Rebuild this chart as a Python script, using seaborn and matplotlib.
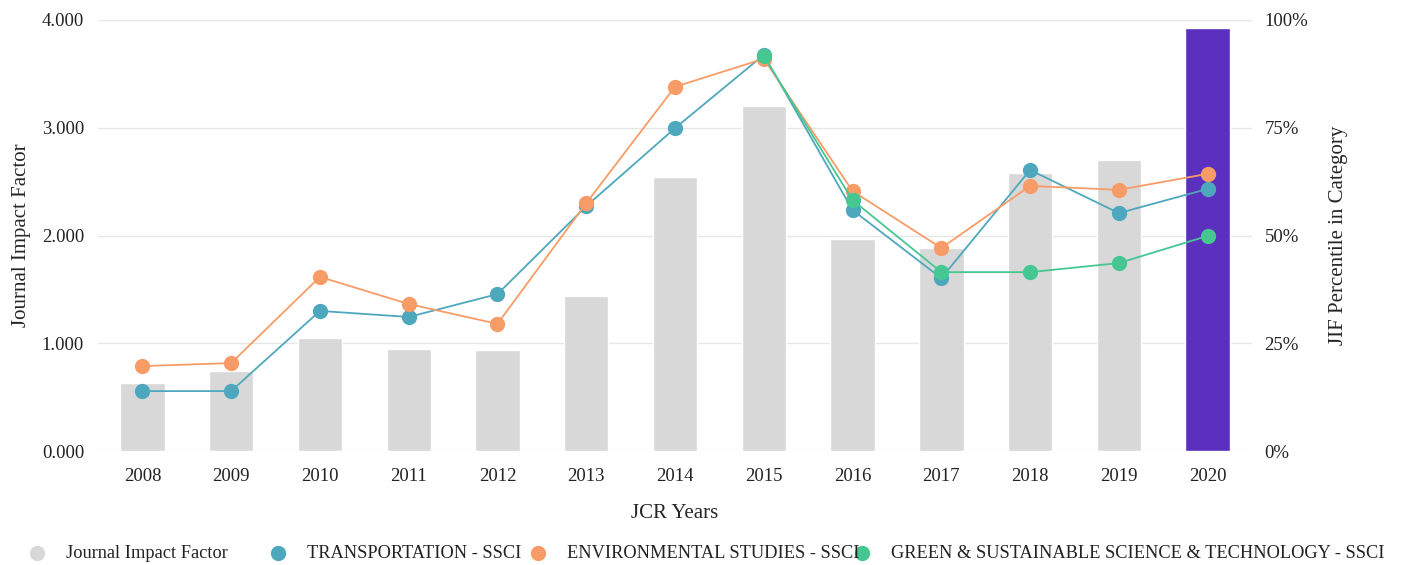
import numpy as np
import pandas as pd
import matplotlib
matplotlib.use("Agg")
import matplotlib.pyplot as plt
import seaborn as sns
from matplotlib.lines import Line2D
from matplotlib.ticker import FuncFormatter

years = ["2008", "2009", "2010", "2011", "2012", "2013", "2014",
         "2015", "2016", "2017", "2018", "2019", "2020"]
jif = [0.63, 0.74, 1.05, 0.95, 0.94, 1.44, 2.54, 3.20, 1.97, 1.88, 2.58, 2.70, 3.93]
transport_pct = [13.9, 13.9, 32.5, 31.1, 36.4, 56.8, 74.9, 91.9, 55.9, 40.1, 65.2, 55.2, 60.8]
environ_pct = [19.7, 20.4, 40.4, 34.1, 29.5, 57.5, 84.5, 91.0, 60.3, 47.1, 61.5, 60.6, 64.3]
green_pct = [None, None, None, None, None, None, None, 91.6, 58.2, 41.5, 41.5, 43.6, 49.9]

series_names = ["TRANSPORTATION - SSCI", "ENVIRONMENTAL STUDIES - SSCI",
                "GREEN & SUSTAINABLE SCIENCE & TECHNOLOGY - SSCI"]
series_colors = ["#4ea8bd", "#f89c67", "#46c792"]
bar_grey = "#d8d8d8"
bar_current = "#5c30be"

sns.set_theme(style="white")
plt.rcParams["font.family"] = ["Liberation Serif", "DejaVu Serif"]

W, H = 1401, 565
fig = plt.figure(figsize=(W / 100, H / 100), dpi=100)
ax = fig.add_axes([98 / W, 1 - 451 / H, (1252 - 98) / W, (451 - 20) / H])

# bars for impact factor
bar_df = pd.DataFrame({"year": years, "jif": jif})
bar_colors = [bar_grey] * (len(years) - 1) + [bar_current]
sns.barplot(data=bar_df, x="year", y="jif", hue="year", palette=bar_colors,
            legend=False, width=0.5, saturation=1, ax=ax, zorder=2)

ax.set_ylim(0, 4)
ax.set_xlim(-0.5, len(years) - 0.5)
ax.set_yticks([0, 1, 2, 3, 4])
ax.yaxis.set_major_formatter(FuncFormatter(lambda v, p: f"{v:.3f}"))
ax.grid(axis="y", color="#e6e6e6", linewidth=1, zorder=0)
ax.set_axisbelow(True)
for s in ax.spines.values():
    s.set_visible(False)
ax.tick_params(axis="x", length=0, labelsize=13.5, colors="#222222", pad=12)
ax.tick_params(axis="y", length=0, labelsize=13.5, colors="#222222", pad=10)
ax.set_xlabel("JCR Years", fontsize=15, labelpad=14)
ax.set_ylabel("Journal Impact Factor", fontsize=15, labelpad=8)

# percentile lines on the right axis
ax2 = ax.twinx()
line_df = pd.DataFrame({
    "pos": np.tile(np.arange(len(years)), 3),
    "pct": transport_pct + environ_pct + green_pct,
    "cat": np.repeat(series_names, len(years)),
}).dropna()
sns.lineplot(data=line_df, x="pos", y="pct", hue="cat", hue_order=series_names,
             palette=series_colors, marker="o", markersize=11, markeredgewidth=0,
             linewidth=1.3, legend=False, ax=ax2, zorder=3)
ax2.set_ylim(0, 100)
ax2.set_xlim(-0.5, len(years) - 0.5)
ax2.set_yticks([0, 25, 50, 75, 100])
ax2.yaxis.set_major_formatter(FuncFormatter(lambda v, p: f"{v:.0f}%"))
for s in ax2.spines.values():
    s.set_visible(False)
ax2.tick_params(axis="y", length=0, labelsize=13.5, colors="#222222", pad=9)
ax2.set_ylabel("JIF Percentile in Category", fontsize=15, labelpad=15)
ax2.grid(False)

# legend along the bottom, fixed slots like the original
legend_x = [37, 278, 538, 862]
labels = ["Journal Impact Factor"] + series_names
for x, lab, c in zip(legend_x, labels, [bar_grey] + series_colors):
    fig.add_artist(Line2D([x / W], [1 - 553 / H], transform=fig.transFigure,
                          linestyle="none", marker="o", markersize=11,
                          markerfacecolor=c, markeredgewidth=0))
    fig.text((x + 29) / W, 1 - 553 / H, lab, fontsize=13.2, va="center",
             ha="left", color="#222222")

fig.savefig("out.png", dpi=100)
